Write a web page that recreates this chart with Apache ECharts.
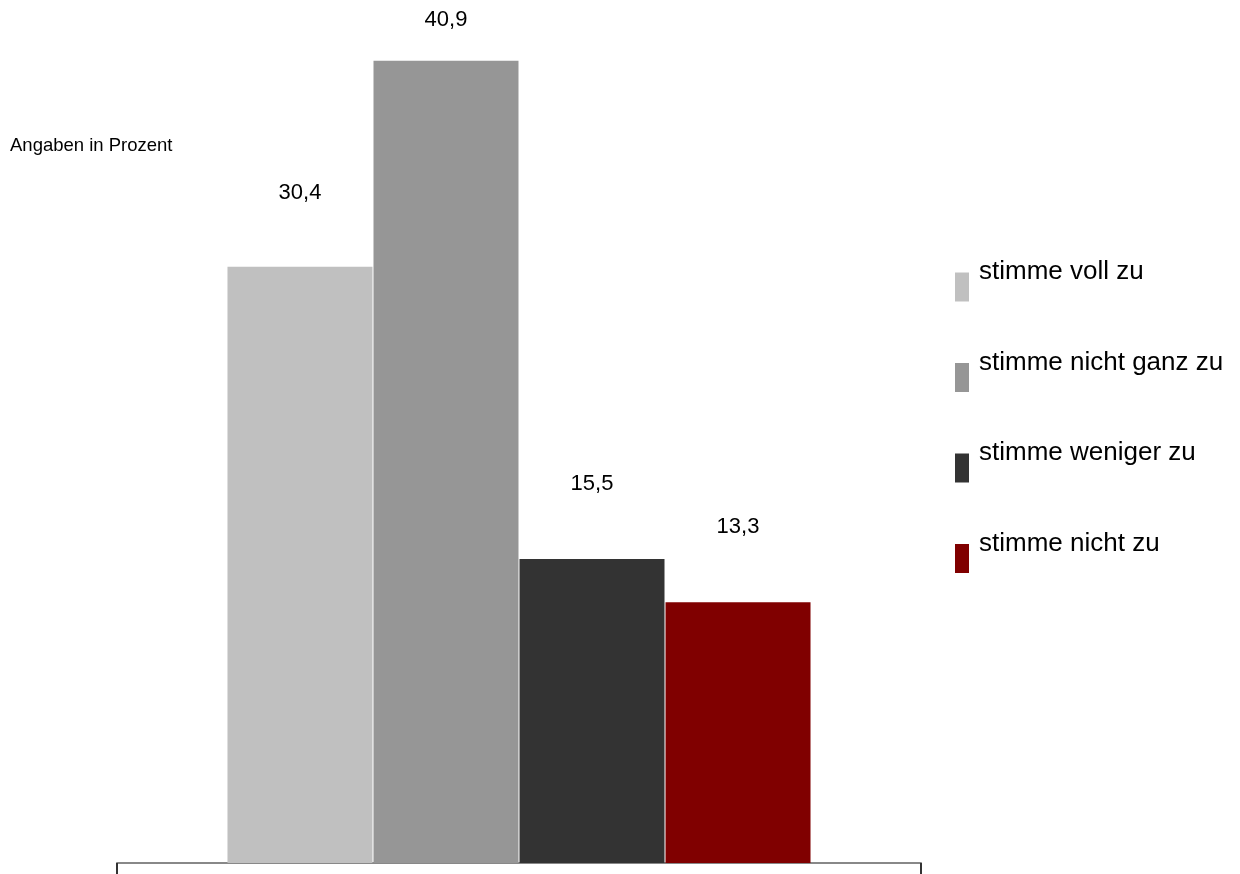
<!DOCTYPE html>
<html>
<head>
<meta charset="utf-8">
<script src="https://cdn.jsdelivr.net/npm/echarts@6/dist/echarts.min.js"></script>
<style>
  html, body { margin: 0; padding: 0; background: #fff; }
  #chart { width: 1240px; height: 874px; }
</style>
</head>
<body>
<div id="chart"></div>
<script>
// Answer categories and their shares in percent
const answers = ['stimme voll zu', 'stimme nicht ganz zu', 'stimme weniger zu', 'stimme nicht zu'];
const shares = [30.4, 40.9, 15.5, 13.3];
const categories = [''];

// Styling per answer
const colors = ['#c0c0c0', '#969696', '#333333', '#800000'];
const labelGaps = [63, 30, 64, 64];

const fmt = v => String(v).replace('.', ',');

const series = answers.map((name, i) => ({
  name: name,
  type: 'bar',
  data: [shares[i]],
  barWidth: 145,
  barGap: '0.7%',
  itemStyle: { color: colors[i] },
  label: {
    show: true,
    position: 'top',
    distance: labelGaps[i],
    color: '#000',
    fontFamily: 'Liberation Sans, Arial, sans-serif',
    fontSize: 22,
    formatter: p => fmt(p.value)
  }
}));

const chart = echarts.init(document.getElementById('chart'), null, { renderer: 'canvas' });
chart.setOption({
  animation: false,
  backgroundColor: '#ffffff',
  color: colors,
  textStyle: { fontFamily: 'Liberation Sans, Arial, sans-serif' },
  title: {
    text: 'Angaben in Prozent',
    left: 10,
    top: 136,
    padding: 0,
    textStyle: { fontSize: 18.5, fontWeight: 'normal', color: '#000' }
  },
  legend: {
    orient: 'vertical',
    left: 955,
    top: 259,
    padding: 0,
    itemGap: 43.5,
    itemWidth: 14,
    itemHeight: 29,
    itemStyle: { borderWidth: 0 },
    icon: 'rect',
    // text sits beside the upper half of each swatch
    formatter: name => '{t|' + name + '}\n{g|}',
    textStyle: {
      color: '#000',
      rich: {
        t: { fontSize: 26, lineHeight: 26, color: '#000', padding: [0, 0, 0, 5] },
        g: { lineHeight: 30 }
      }
    },
    data: answers
  },
  grid: { left: 117, right: 319, top: 0, bottom: 11 },
  xAxis: {
    type: 'category',
    data: categories,
    axisLine: { lineStyle: { color: '#888888', width: 2 } },
    axisTick: { show: true, length: 12, lineStyle: { color: '#333333', width: 2 } },
    axisLabel: { show: false }
  },
  yAxis: {
    type: 'value',
    min: 0,
    max: 44,
    show: false,
    splitLine: { show: false }
  },
  series: series
});
</script>
</body>
</html>
